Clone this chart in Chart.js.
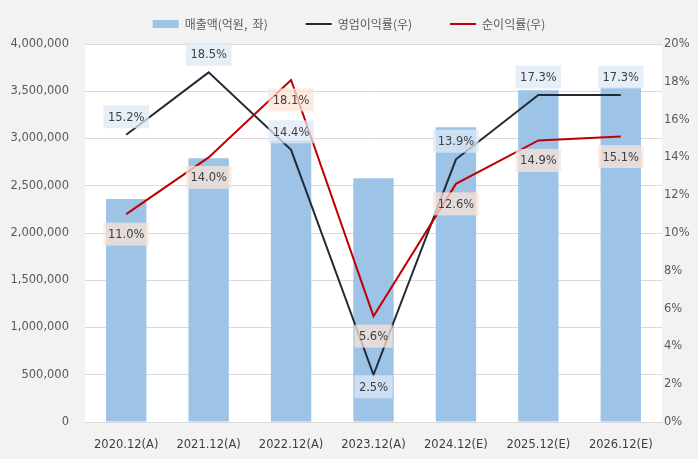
<!DOCTYPE html>
<html>
<head>
<meta charset="utf-8">
<script src="https://cdn.jsdelivr.net/npm/chart.js@4.4.1/dist/chart.umd.min.js"></script>
<style>
  html, body { margin: 0; padding: 0; background: #f2f2f2; }
  canvas { display: block; }
</style>
</head>
<body>
<canvas id="chart" width="698" height="459"></canvas>
<script>
// 데이터
const categories = ['2020.12(A)', '2021.12(A)', '2022.12(A)', '2023.12(A)', '2024.12(E)', '2025.12(E)', '2026.12(E)'];
const sales = [2360000, 2790000, 2980000, 2580000, 3120000, 3510000, 3540000]; // 매출액(억원, 좌)
const opMargin = [15.2, 18.5, 14.4, 2.5, 13.9, 17.3, 17.3];  // 영업이익률(우)
const netMargin = [11.0, 14.0, 18.1, 5.6, 12.6, 14.9, 15.1]; // 순이익률(우)
const opLabelBelow = [false, false, false, true, false, false, false];

const FONT = '"DejaVu Sans", "Noto Sans CJK KR", sans-serif';
const FSIZE = 11.5;

// white plot area on grey background
const plotBg = {
    id: 'plotBg',
    beforeDraw(chart) {
        const { ctx, chartArea } = chart;
        ctx.save();
        ctx.fillStyle = '#ffffff';
        ctx.fillRect(chartArea.left, chartArea.top, chartArea.right - chartArea.left, chartArea.bottom - chartArea.top);
        ctx.restore();
    }
};

// legend height fix
const legendFit = {
    id: 'legendFit',
    afterInit(chart) {
        const fit = chart.legend.fit;
        chart.legend.fit = function () {
            fit.call(this);
            this.height = 64;
        };
    }
};

// percentage labels with boxes
const valueLabels = {
    id: 'valueLabels',
    afterDatasetsDraw(chart) {
        const ctx = chart.ctx;
        ctx.save();
        ctx.font = FSIZE + 'px ' + FONT;
        ctx.textAlign = 'center';
        ctx.textBaseline = 'middle';
        const draw = (dsIndex, values, bg, offsetFn) => {
            const meta = chart.getDatasetMeta(dsIndex);
            meta.data.forEach((pt, i) => {
                const text = values[i].toFixed(1) + '%';
                const w = ctx.measureText(text).width + 9;
                const h = 23;
                const cy = pt.y + offsetFn(i);
                ctx.fillStyle = bg;
                ctx.fillRect(pt.x - w / 2, cy - h / 2, w, h);
                ctx.fillStyle = '#404040';
                ctx.fillText(text, pt.x, cy + 1);
            });
        };
        draw(1, opMargin, 'rgba(221,232,246,0.75)', i => opLabelBelow[i] ? 12 : -18);
        draw(2, netMargin, 'rgba(251,228,213,0.75)', i => 20);
        ctx.restore();
    }
};

new Chart(document.getElementById('chart').getContext('2d'), {
    data: {
        labels: categories,
        datasets: [
            {
                type: 'bar',
                label: '매출액(억원,  좌)',
                data: sales,
                backgroundColor: '#9dc3e6',
                borderWidth: 0,
                barPercentage: 0.49,
                categoryPercentage: 1,
                pointStyle: 'rect',
                yAxisID: 'y',
                order: 3
            },
            {
                type: 'line',
                label: '영업이익률(우)',
                data: opMargin.map(v => v / 100),
                borderColor: '#222a35',
                backgroundColor: '#222a35',
                borderWidth: 2,
                pointRadius: 0,
                pointStyle: 'line',
                tension: 0,
                yAxisID: 'y1',
                order: 2
            },
            {
                type: 'line',
                label: '순이익률(우)',
                data: netMargin.map(v => v / 100),
                borderColor: '#c00000',
                backgroundColor: '#c00000',
                borderWidth: 2,
                pointRadius: 0,
                pointStyle: 'line',
                tension: 0,
                yAxisID: 'y1',
                order: 1
            }
        ]
    },
    options: {
        responsive: false,
        animation: false,
        layout: { padding: { top: -20, left: 0, right: 0, bottom: 0 } },
        plugins: {
            tooltip: { enabled: false },
            legend: {
                position: 'top',
                labels: {
                    usePointStyle: true,
                    pointStyleWidth: 26,
                    boxHeight: 8,
                    padding: 38,
                    color: '#595959',
                    font: { size: 12, family: '"Noto Sans CJK KR", sans-serif' },
                    sort: (a, b) => a.datasetIndex - b.datasetIndex
                }
            }
        },
        scales: {
            x: {
                grid: { display: false },
                border: { color: '#d9d9d9' },
                ticks: { color: '#404040', font: { size: FSIZE, family: FONT }, padding: 8, maxRotation: 0 },
                afterFit(scale) { scale.height = 37; }
            },
            y: {
                position: 'left',
                min: 0,
                max: 4000000,
                ticks: {
                    stepSize: 500000,
                    color: '#595959',
                    font: { size: FSIZE, family: FONT },
                    padding: 16,
                    callback: v => v.toLocaleString('en-US')
                },
                grid: { color: '#d9d9d9', drawTicks: false },
                border: { display: false },
                afterFit(scale) { scale.width = 85; }
            },
            y1: {
                position: 'right',
                min: 0,
                max: 0.2,
                ticks: {
                    stepSize: 0.02,
                    color: '#595959',
                    font: { size: FSIZE, family: FONT },
                    padding: 2,
                    callback: v => Math.round(v * 100) + '%'
                },
                grid: { drawOnChartArea: false, drawTicks: false },
                border: { display: false },
                afterFit(scale) { scale.width = 36; }
            }
        }
    },
    plugins: [plotBg, legendFit, valueLabels]
});
</script>
</body>
</html>
